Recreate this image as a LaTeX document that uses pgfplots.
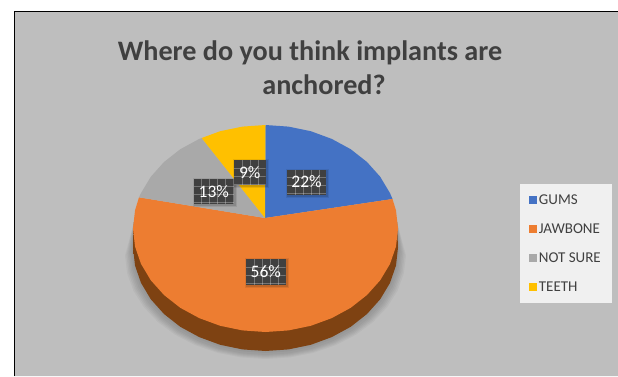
\documentclass[border=0pt]{standalone}
\usepackage{fontspec}
\setmainfont{Carlito}
\usepackage{pgfplots}
\usepackage{pgfplotstable}
\pgfplotsset{compat=1.18}
\definecolor{pageback}{HTML}{BEBEBE}
\definecolor{gumsblue}{HTML}{4472C4}
\definecolor{jaworange}{HTML}{ED7D31}
\definecolor{notsuregray}{HTML}{A9A9A9}
\definecolor{teethgold}{HTML}{FFC000}
\definecolor{inktext}{HTML}{404040}
\definecolor{labelbox}{HTML}{404040}
\definecolor{keyback}{HTML}{F0F0F0}
\definecolor{wallmid}{HTML}{A65A1E}
\definecolor{walledge}{HTML}{7E4212}

% Front rim of the disc's top face, left to right; d marks rows that drop with the wall depth
\pgfplotstableread{
x y d
134 222 0
133 228.5 1
135 246.5 1
141 263.9 1
150.8 280.25 1
164 295 1
180.3 307.8 1
199.25 318.1 1
220.2 325.8 1
242.5 330.4 1
265.5 332 1
288.5 330.4 1
310.8 325.8 1
331.75 318.1 1
350.7 307.8 1
367 295 1
380.2 280.25 1
390 263.9 1
396 246.5 1
398 228.5 1
397 222 0
134 222 0
}\frontrim

% One layer of the disc's shadow: spread factor, downward offset
\newcommand{\shadowlayer}[2]{%
  \addplot[forget plot, draw=none, fill=black, opacity=.035]
    table[x expr={265.5+(\thisrow{x}-265.5)*(1+(#1-1)*\thisrow{d})}, y expr={\thisrow{y}+#2*\thisrow{d}}] {\frontrim};
}

% Draws one data label: a dark tile with a faint grid, and a soft drop shadow
\newcommand{\pielabel}[5]{%
  \fill[black,opacity=.08] (axis cs:#1-1,#2-1) rectangle (axis cs:#3+3,#4+3);
  \fill[black,opacity=.12] (axis cs:#1,#2) rectangle (axis cs:#3+2,#4+2);
  \fill[labelbox] (axis cs:#1,#2) rectangle (axis cs:#3,#4);
  \begin{scope}
    \clip (axis cs:#1,#2) rectangle (axis cs:#3,#4);
    \pgfplotsinvokeforeach{1,...,5}{
      \draw[white,opacity=.28,line width=.8pt] (axis cs:#1+##1*8,#2) -- (axis cs:#1+##1*8,#4);
      \draw[white,opacity=.28,line width=.8pt] (axis cs:#1,#2+##1*8) -- (axis cs:#3,#2+##1*8);
    }
  \end{scope}
  \node[text=white,font=\fontsize{17.5}{18}\selectfont] at (axis cs:#1/2+#3/2,#2/2+#4/2) {#5};
}

\begin{document}
\begin{tikzpicture}
\begin{axis}[
  scale only axis, width=618pt, height=376pt,
  xmin=0, xmax=618, ymin=0, ymax=376, y dir=reverse,
  axis lines=none, clip=true,
  legend cell align=left,
  legend image code/.code={\fill[#1,draw=none] (0pt,-3.9pt) rectangle (7.7pt,3.9pt);},
  legend style={at={(axis cs:520,184)}, anchor=north west, draw=none, fill=keyback,
    font=\fontsize{15}{15}\selectfont, text=inktext, row sep=13.8pt,
    inner xsep=9pt, inner ysep=8.5pt},
]
% Sheet and chart area
\addplot[forget plot, draw=none, fill=white] coordinates {(0,0) (618,0) (618,376) (0,376) (0,0)};
\addplot[forget plot, draw=none, fill=pageback]
  coordinates {(14.5,376) (14.5,11.5) (618,11.5) (618,376) (14.5,376)};
\addplot[forget plot, draw=black, line width=1pt]
  coordinates {(14.5,376) (14.5,11.5) (618,11.5)};

% Soft shadow under the disc
\shadowlayer{1.06}{27}
\shadowlayer{1.05}{26}
\shadowlayer{1.04}{25}
\shadowlayer{1.03}{24}
\shadowlayer{1.02}{23}
\shadowlayer{1.01}{21}

% Side wall of the disc
\addplot[forget plot, draw=none, left color=walledge, middle color=wallmid, right color=walledge]
  table[y expr={\thisrow{y}+19*\thisrow{d}}] {\frontrim};

% Slices of the top face: GUMS 22, JAWBONE 56, NOT SURE 13, TEETH 9
\addplot[fill=gumsblue, draw=none] coordinates {
  (265,218) (265.5,125) (288.5,126.6) (310.8,131.2) (331.75,138.9) (350.7,149.2)
  (367,162) (380.2,176.75) (390,193.1) (392.5,199) (265,218)};
\addlegendentry{GUMS}
\addplot[fill=jaworange, draw=none] coordinates {
  (265,218) (392.5,199) (396,210.5) (398,228.5) (396,246.5) (390,263.9) (380.2,280.25)
  (367,295) (350.7,307.8) (331.75,318.1) (310.8,325.8) (288.5,330.4) (265.5,332)
  (242.5,330.4) (220.2,325.8) (199.25,318.1) (180.3,307.8) (164,295) (150.8,280.25)
  (141,263.9) (135,246.5) (133,228.5) (135,210.5) (139,197.3) (265,218)};
\addlegendentry{JAWBONE}
\addplot[fill=notsuregray, draw=none] coordinates {
  (265,218) (139,197.3) (141,193.1) (150.8,176.75) (164,162) (180.3,149.2)
  (199.25,138.9) (201.7,138) (265,218)};
\addlegendentry{NOT SURE}
\addplot[fill=teethgold, draw=none] coordinates {
  (265,218) (201.7,138) (220.2,131.2) (242.5,126.6) (265.5,125) (265,218)};
\addlegendentry{TEETH}

% Title, set as two separate lines
\node[text=inktext,font=\fontsize{28.2}{29}\bfseries\selectfont,anchor=base] at (axis cs:310,60) {Where do you think implants are};
\node[text=inktext,font=\fontsize{28.2}{29}\bfseries\selectfont,anchor=base] at (axis cs:324,94.5) {anchored?};

% Data labels
\pielabel{287}{169.5}{326}{194.5}{22\%}
\pielabel{193.5}{178.5}{234}{204}{13\%}
\pielabel{234}{160}{265.5}{185}{9\%}
\pielabel{246}{259}{285.5}{285}{56\%}
\end{axis}
\end{tikzpicture}
\end{document}
